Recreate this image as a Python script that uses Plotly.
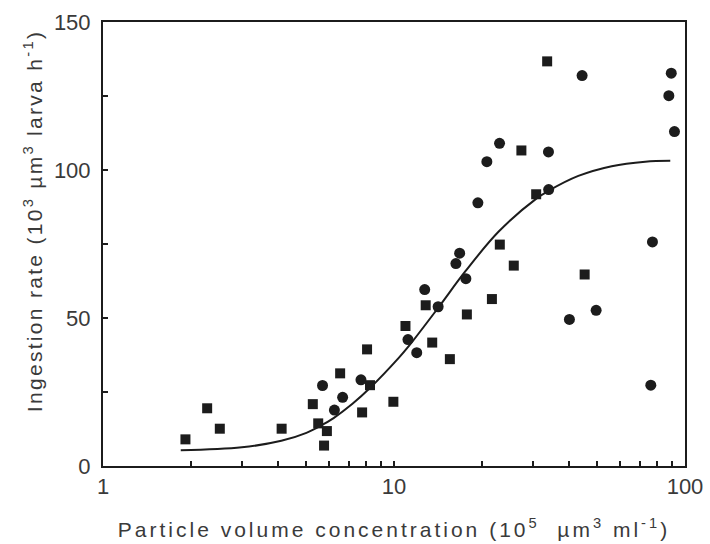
import plotly.graph_objects as go

# Squares series (x: 10^5 um^3 ml^-1, y: 10^3 um^3 larva^-1 h^-1)
sq_x = [1.92, 2.28, 2.52, 4.11, 5.26, 5.49, 5.88, 5.75, 6.53, 7.77, 8.27, 8.08, 9.95,
        10.95, 12.85, 13.53, 15.56, 17.8, 21.7, 23.1, 25.8, 27.4, 30.8, 33.6, 45.2]
sq_y = [9.0, 19.5, 12.6, 12.6, 20.9, 14.4, 11.8, 6.9, 31.3, 18.1, 27.3, 39.4, 21.7,
        47.3, 54.3, 41.7, 36.1, 51.2, 56.4, 74.8, 67.7, 106.6, 91.8, 136.7, 64.7]

# Circles series
ci_x = [5.68, 6.24, 6.66, 7.70, 11.17, 11.97, 12.75, 14.18, 16.32, 16.81, 17.66, 19.42,
        20.85, 23.05, 33.95, 34.0, 44.3, 40.07, 49.5, 76.3, 77.3, 89.7, 88.0, 92.0]
ci_y = [27.2, 18.9, 23.2, 29.1, 42.7, 38.3, 59.6, 53.8, 68.4, 71.9, 63.3, 88.9,
        102.8, 109.0, 106.1, 93.4, 131.9, 49.5, 52.6, 27.3, 75.7, 132.7, 125.1, 113.0]

# Fitted curve
fit_x = [1.85, 3.0, 4.1, 5.0, 5.6, 6.2, 7.2, 8.3, 10.4, 11.2, 14.2, 17.6, 22.9, 31.0, 34.0,
         43.0, 56.0, 73.0, 89.0]
fit_y = [5.3, 6.3, 8.5, 11.2, 13.6, 16.2, 21.0, 26.5, 36.6, 40.3, 53.5, 65.8, 79.2, 90.5,
         93.0, 98.0, 101.3, 102.8, 103.1]

x_tick_vals = [1, 10, 100]
x_tick_text = ["1", "10", "100"]
x_minor_vals = [2, 3, 4, 5, 6, 7, 8, 9, 20, 30, 40, 50, 60, 70, 80, 90]
y_tick_vals = [0, 50, 100, 150]
y_tick_text = ["0", "50", "100", "150"]
y_minor_vals = [25, 75, 125]

x_title = "Particle volume concentration (10<sup>5</sup>  µm<sup>3</sup> ml<sup>-1</sup>)"
y_title = "Ingestion rate (10<sup>3</sup> µm<sup>3</sup> larva h<sup>-1</sup>)"

ink = "#1c1c1c"
txt = "#3a3a3a"
font = "Liberation Sans, Arial, sans-serif"

fig = go.Figure()
fig.add_trace(go.Scatter(x=fit_x, y=fit_y, mode="lines", line=dict(color=ink, width=2, shape="spline"),
                         showlegend=False, hoverinfo="skip"))
fig.add_trace(go.Scatter(x=sq_x, y=sq_y, mode="markers",
                         marker=dict(symbol="square", size=10, color=ink), showlegend=False))
fig.add_trace(go.Scatter(x=ci_x, y=ci_y, mode="markers",
                         marker=dict(symbol="circle", size=11, color=ink), showlegend=False))

fig.update_layout(
    width=710, height=544,
    margin=dict(l=103, r=25, t=22, b=78),
    paper_bgcolor="white", plot_bgcolor="white",
    font=dict(family=font, size=21, color=txt),
)
fig.update_xaxes(
    type="log", range=[0, 2], automargin=False,
    tickvals=x_tick_vals, ticktext=x_tick_text,
    ticks="inside", ticklen=5, tickwidth=1.5, tickcolor=ink,
    minor=dict(tickvals=x_minor_vals, ticks="inside", ticklen=5, tickwidth=1.5,
               tickcolor=ink, showgrid=False),
    showline=True, linecolor=ink, linewidth=2, mirror=True,
    showgrid=False, zeroline=False,
    tickfont=dict(size=22, color=txt),
    title=dict(text=x_title, font=dict(size=21, color=txt), standoff=24),
)
fig.update_yaxes(
    range=[0, 150], automargin=False,
    tickvals=y_tick_vals, ticktext=y_tick_text,
    ticks="inside", ticklen=5, tickwidth=1.5, tickcolor=ink,
    minor=dict(tickvals=y_minor_vals, ticks="inside", ticklen=5, tickwidth=1.5,
               tickcolor=ink, showgrid=False),
    ticklabelstandoff=6,
    showline=True, linecolor=ink, linewidth=2, mirror=True,
    showgrid=False, zeroline=False,
    tickfont=dict(size=22, color=txt),
)
fig.add_annotation(
    text=y_title, xref="paper", yref="paper", x=-0.12, y=0.552,
    xanchor="center", yanchor="middle", textangle=-90, showarrow=False,
    font=dict(size=21, color=txt),
)

post = (
    "document.body.style.margin='0';"
    "document.querySelectorAll('.xtitle').forEach(function(e){e.style.letterSpacing='3px';});"
    "document.querySelectorAll('.annotation-text').forEach(function(e){e.style.letterSpacing='2.3px';});"
)
fig.write_html("out.html", post_script=post, config={"displayModeBar": False})
